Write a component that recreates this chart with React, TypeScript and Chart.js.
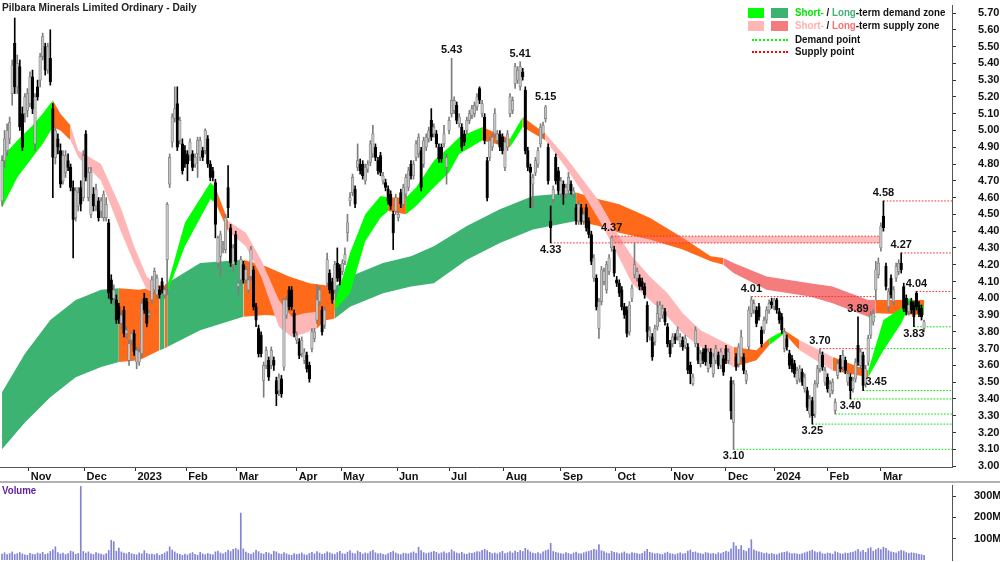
import React, { useEffect, useRef } from "react";
import { Chart, registerables } from "chart.js";

Chart.register(...registerables);

const FONT = "'Liberation Sans Narrow', 'Arial Narrow', 'Liberation Sans', Arial, sans-serif";

const chartTitle = "Pilbara Minerals Limited Ordinary - Daily";
const monthLabels = ["Nov", "Dec", "2023", "Feb", "Mar", "Apr", "May", "Jun", "Jul", "Aug", "Sep", "Oct", "Nov", "Dec", "2024", "Feb", "Mar"];
const monthTickIdx = [10.5, 32.5, 52.5, 72.5, 92.5, 116, 133.5, 155.5, 176, 197.5, 220, 241.5, 263.5, 285, 304, 325, 346];
const priceTicks = [3.0, 3.1, 3.2, 3.3, 3.4, 3.5, 3.6, 3.7, 3.8, 3.9, 4.0, 4.1, 4.2, 4.3, 4.4, 4.5, 4.6, 4.7, 4.8, 4.9, 5.0, 5.1, 5.2, 5.3, 5.4, 5.5, 5.6, 5.7];
const volumeTicks = [100, 200, 300];

const opens = [
  4.58,4.82,4.88,4.95,5.22,5.52,5.26,5.38,5.10,5.10,
  5.12,5.16,5.32,4.92,5.26,5.30,5.44,5.50,5.36,5.43,
  5.13,4.84,4.95,4.88,4.70,4.75,4.82,4.78,4.66,4.48,
  4.55,4.66,4.60,4.98,4.60,4.50,4.62,4.55,4.58,4.52,
  4.48,4.48,4.45,4.11,4.00,3.99,3.95,3.85,3.93,3.79,
  3.63,3.75,3.79,3.62,3.62,3.67,4.00,3.98,3.90,3.99,
  4.05,4.02,4.05,4.10,4.02,4.23,4.68,4.93,5.07,5.16,
  4.94,4.92,4.88,4.86,4.85,4.86,4.80,4.86,4.84,4.88,
  4.88,4.95,4.80,4.76,4.69,4.21,4.25,4.30,4.29,4.66,
  4.42,4.20,4.38,4.07,4.11,4.20,4.11,4.05,4.13,4.17,
  3.95,3.82,3.78,3.51,3.60,3.63,3.60,3.63,3.51,3.45,
  3.52,3.59,3.90,4.05,4.05,3.91,3.75,3.74,3.67,3.63,
  3.66,3.60,3.70,3.76,3.87,3.98,3.93,3.84,4.09,4.15,
  4.10,4.05,4.21,4.18,4.16,4.22,4.39,4.58,4.63,4.65,
  4.78,4.80,4.80,4.70,4.77,4.81,4.86,4.90,4.82,4.85,
  4.70,4.69,4.65,4.62,4.50,4.52,4.48,4.63,4.56,4.62,
  4.66,4.80,4.73,4.84,4.86,4.88,4.80,4.90,4.95,5.06,
  4.98,4.98,4.90,4.90,4.92,4.78,5.00,5.10,5.12,5.15,
  5.04,5.02,4.98,5.00,5.06,5.09,5.10,5.14,5.25,5.10,
  5.08,4.82,4.84,4.90,4.98,4.94,4.98,4.96,4.78,4.90,
  5.10,5.12,5.28,5.30,5.26,5.35,5.24,4.88,4.78,4.68,
  4.75,4.80,4.92,4.98,5.07,4.90,4.46,4.59,4.84,4.76,
  4.62,4.68,4.62,4.64,4.68,4.62,4.54,4.46,4.54,4.46,
  4.54,4.46,4.38,4.12,4.12,3.82,3.98,4.10,4.05,4.16,
  4.30,4.29,4.11,4.09,4.05,3.95,3.93,3.80,4.00,4.14,
  4.12,4.12,4.10,4.07,3.96,3.77,3.77,3.74,3.83,3.88,
  3.90,3.92,3.83,3.73,3.73,3.77,3.77,3.73,3.75,3.72,
  3.71,3.60,3.49,3.73,3.71,3.61,3.68,3.70,3.58,3.68,
  3.55,3.63,3.66,3.60,3.64,3.70,3.63,3.51,3.26,3.65,
  3.61,3.65,3.65,3.51,3.71,3.91,3.93,3.93,3.95,3.81,
  3.81,3.87,3.93,3.98,3.95,3.99,3.92,3.89,3.70,3.76,
  3.67,3.64,3.61,3.51,3.52,3.56,3.46,3.45,3.31,3.39,
  3.31,3.49,3.58,3.66,3.50,3.53,3.43,3.45,3.33,3.54,
  3.64,3.59,3.63,3.50,3.53,3.46,3.52,3.72,3.60,3.66,
  3.49,3.62,3.78,3.86,4.05,4.14,4.30,4.49,4.19,3.95,
  4.12,3.98,4.12,4.16,4.21,4.07,4.00,3.92,3.98,3.96,
  4.03,3.96,3.94,3.82
];

const highs = [
  4.85,5.00,5.04,5.08,5.42,5.67,5.45,5.42,5.14,5.22,
  5.25,5.35,5.36,5.22,5.30,5.46,5.58,5.52,5.52,5.60,
  5.16,5.02,4.98,4.92,4.88,4.88,4.86,4.80,4.70,4.66,
  4.66,4.70,4.88,5.00,4.78,4.78,4.66,4.68,4.60,4.60,
  4.64,4.60,4.47,4.14,4.08,4.02,3.97,3.92,3.95,3.83,
  3.75,3.80,3.81,3.71,3.70,3.99,4.03,4.00,3.93,4.13,
  4.18,4.14,4.07,4.12,4.07,4.57,4.86,5.10,5.26,5.26,
  5.08,4.95,4.91,4.88,4.95,4.88,4.86,4.96,4.96,4.90,
  5.01,4.97,4.82,4.78,4.71,4.37,4.40,4.34,4.50,4.79,
  4.44,4.32,4.40,4.10,4.25,4.22,4.19,4.13,4.31,4.19,
  3.97,3.84,3.80,3.62,3.71,3.65,3.71,3.65,3.53,3.55,
  3.54,4.00,4.01,4.07,4.07,3.93,3.80,3.76,3.77,3.70,
  3.68,3.62,3.82,3.82,4.08,4.07,3.95,3.95,4.27,4.17,
  4.12,4.22,4.30,4.20,4.23,4.30,4.50,4.63,4.74,4.67,
  4.92,4.83,4.82,4.80,4.82,4.94,5.03,4.92,4.84,4.87,
  4.75,4.71,4.67,4.64,4.52,4.62,4.52,4.65,4.68,4.74,
  4.78,4.82,4.82,4.94,4.98,4.90,4.96,4.98,5.02,5.13,
  5.04,5.00,4.92,4.92,5.03,4.86,5.08,5.43,5.20,5.17,
  5.10,5.04,5.00,5.08,5.12,5.15,5.17,5.22,5.26,5.18,
  5.10,4.84,4.96,4.98,5.13,5.00,5.00,4.98,4.95,5.00,
  5.22,5.20,5.40,5.38,5.41,5.37,5.26,4.90,4.80,4.74,
  4.84,4.90,5.04,5.05,5.15,4.92,4.55,4.67,4.86,4.78,
  4.72,4.70,4.68,4.75,4.70,4.66,4.56,4.58,4.56,4.52,
  4.56,4.48,4.40,4.26,4.14,4.00,4.19,4.18,4.22,4.26,
  4.37,4.31,4.13,4.11,4.07,3.97,3.95,3.98,4.08,4.33,
  4.18,4.14,4.12,4.09,3.98,3.83,3.79,3.84,3.98,3.98,
  3.96,3.94,3.85,3.75,3.79,3.79,3.83,3.79,3.77,3.78,
  3.73,3.62,3.55,3.83,3.73,3.69,3.70,3.72,3.70,3.70,
  3.67,3.72,3.68,3.70,3.66,3.72,3.70,3.53,3.51,3.67,
  3.73,3.81,3.67,3.57,3.95,4.01,3.99,3.95,3.97,3.83,
  3.89,3.95,3.99,4.00,4.00,4.00,3.94,3.91,3.82,3.78,
  3.69,3.66,3.63,3.59,3.60,3.58,3.55,3.47,3.42,3.41,
  3.51,3.60,3.70,3.68,3.59,3.55,3.51,3.52,3.40,3.63,
  3.66,3.69,3.65,3.57,3.55,3.53,3.64,3.89,3.70,3.68,
  3.60,3.78,3.92,3.93,4.22,4.24,4.45,4.58,4.21,4.06,
  4.14,4.07,4.21,4.23,4.27,4.09,4.02,3.98,4.00,3.98,
  4.04,3.98,3.96,3.87
];

const lows = [
  4.55,4.78,4.85,4.92,5.15,5.22,5.22,5.00,4.88,5.05,
  5.08,5.14,5.10,4.88,5.18,5.26,5.42,5.33,5.34,5.27,
  4.60,4.80,4.86,4.66,4.68,4.72,4.76,4.64,4.24,4.46,
  4.52,4.52,4.58,4.70,4.58,4.48,4.52,4.52,4.46,4.48,
  4.46,4.46,4.00,3.97,3.96,3.85,3.85,3.82,3.77,3.76,
  3.60,3.72,3.66,3.58,3.60,3.65,3.91,3.83,3.88,3.97,
  4.03,4.00,4.00,4.03,4.00,4.02,4.66,4.90,5.05,4.88,
  4.92,4.74,4.78,4.70,4.82,4.76,4.78,4.72,4.82,4.82,
  4.86,4.78,4.70,4.70,4.36,4.18,4.13,4.27,4.27,4.48,
  4.19,4.16,4.20,4.02,4.08,4.09,4.09,4.03,4.11,3.93,
  3.83,3.65,3.65,3.41,3.58,3.51,3.58,3.57,3.36,3.42,
  3.41,3.57,3.88,3.93,3.93,3.77,3.73,3.64,3.65,3.61,
  3.56,3.50,3.68,3.74,3.85,3.96,3.78,3.82,4.07,4.03,
  3.97,4.03,4.10,4.08,4.14,4.20,4.34,4.55,4.61,4.54,
  4.76,4.74,4.71,4.68,4.75,4.79,4.84,4.82,4.74,4.73,
  4.68,4.64,4.56,4.53,4.29,4.50,4.46,4.54,4.54,4.60,
  4.64,4.71,4.71,4.82,4.84,4.64,4.78,4.88,4.93,4.94,
  4.96,4.90,4.81,4.81,4.90,4.68,4.98,5.08,5.10,5.04,
  5.02,4.88,4.91,4.98,5.04,5.07,5.08,5.12,5.16,5.08,
  4.92,4.58,4.82,4.88,4.96,4.92,4.88,4.86,4.76,4.88,
  5.08,5.10,5.25,5.28,5.24,5.30,4.86,4.76,4.54,4.54,
  4.73,4.78,4.90,4.96,5.05,4.68,4.33,4.57,4.68,4.62,
  4.60,4.56,4.60,4.62,4.62,4.60,4.44,4.44,4.44,4.44,
  4.40,4.36,4.20,4.10,3.93,3.76,3.96,4.08,4.03,4.14,
  4.28,4.13,4.07,4.01,3.93,3.88,3.77,3.78,3.98,4.12,
  4.10,4.05,4.05,4.00,3.74,3.75,3.63,3.72,3.81,3.86,
  3.88,3.84,3.71,3.65,3.71,3.73,3.75,3.71,3.69,3.70,
  3.55,3.49,3.48,3.71,3.61,3.59,3.61,3.60,3.56,3.59,
  3.53,3.61,3.58,3.58,3.54,3.61,3.61,3.28,3.10,3.57,
  3.59,3.63,3.55,3.49,3.69,3.89,3.91,3.83,3.87,3.71,
  3.79,3.85,3.91,3.94,3.93,3.91,3.85,3.79,3.68,3.69,
  3.58,3.56,3.53,3.49,3.50,3.48,3.44,3.33,3.29,3.25,
  3.29,3.47,3.56,3.57,3.48,3.44,3.41,3.43,3.31,3.52,
  3.56,3.57,3.55,3.48,3.40,3.44,3.50,3.60,3.58,3.45,
  3.47,3.60,3.76,3.84,3.99,4.12,4.28,4.40,4.05,3.92,
  4.00,3.96,4.10,4.14,4.15,3.92,3.90,3.90,3.91,3.83,
  3.93,3.89,3.87,3.80
];

const closes = [
  4.82,4.95,5.00,5.05,5.39,5.26,5.40,5.02,4.90,5.20,
  5.22,5.32,5.13,5.20,5.20,5.44,5.56,5.36,5.50,5.29,
  4.84,5.00,4.90,4.68,4.85,4.85,4.78,4.66,4.47,4.64,
  4.63,4.56,4.85,4.72,4.75,4.75,4.55,4.65,4.48,4.58,
  4.62,4.56,4.03,3.99,4.05,3.87,3.88,3.90,3.79,3.81,
  3.73,3.79,3.68,3.69,3.68,3.97,3.93,3.85,3.91,4.11,
  4.16,4.12,4.02,4.05,4.05,4.56,4.84,5.08,5.13,4.90,
  5.06,4.76,4.80,4.80,4.93,4.78,4.84,4.94,4.94,4.84,
  5.00,4.80,4.72,4.72,4.44,4.36,4.38,4.31,4.48,4.54,
  4.21,4.30,4.22,4.09,4.23,4.11,4.17,4.11,4.29,3.95,
  3.87,3.67,3.67,3.60,3.69,3.53,3.69,3.60,3.43,3.53,
  3.43,3.99,3.99,3.95,3.95,3.79,3.78,3.66,3.75,3.68,
  3.58,3.52,3.80,3.80,3.99,4.05,3.80,3.93,4.23,4.05,
  3.99,4.20,4.12,4.10,4.21,4.26,4.45,4.60,4.72,4.56,
  4.82,4.76,4.73,4.78,4.80,4.92,4.98,4.84,4.76,4.75,
  4.73,4.66,4.58,4.55,4.39,4.60,4.50,4.56,4.66,4.72,
  4.76,4.73,4.80,4.92,4.96,4.66,4.94,4.96,5.00,4.96,
  5.02,4.92,4.83,4.83,4.98,4.84,5.06,5.18,5.18,5.06,
  5.08,4.90,4.93,5.06,5.10,5.13,5.15,5.20,5.18,5.16,
  4.94,4.60,4.94,4.96,5.10,4.98,4.90,4.88,4.93,4.98,
  5.20,5.18,5.38,5.36,5.38,5.32,4.88,4.78,4.75,4.72,
  4.82,4.88,5.02,5.03,5.14,4.70,4.42,4.65,4.70,4.64,
  4.70,4.62,4.66,4.72,4.64,4.64,4.46,4.56,4.46,4.50,
  4.42,4.38,4.22,4.24,3.95,3.98,4.17,4.16,4.20,4.24,
  4.36,4.15,4.09,4.03,3.95,3.90,3.79,3.96,4.06,4.20,
  4.16,4.07,4.07,4.02,3.80,3.81,3.65,3.82,3.91,3.96,
  3.94,3.86,3.73,3.67,3.77,3.75,3.81,3.77,3.71,3.76,
  3.57,3.55,3.53,3.81,3.63,3.67,3.63,3.62,3.68,3.61,
  3.65,3.70,3.60,3.68,3.56,3.63,3.68,3.33,3.49,3.59,
  3.71,3.77,3.57,3.55,3.93,3.99,3.97,3.85,3.89,3.73,
  3.87,3.93,3.97,3.96,3.99,3.93,3.87,3.81,3.80,3.71,
  3.60,3.58,3.55,3.57,3.58,3.50,3.53,3.35,3.40,3.30,
  3.49,3.58,3.67,3.59,3.57,3.46,3.49,3.50,3.38,3.61,
  3.58,3.66,3.57,3.55,3.45,3.51,3.62,3.62,3.68,3.48,
  3.58,3.76,3.90,3.91,4.17,4.21,4.43,4.42,4.07,4.04,
  4.02,4.05,4.19,4.21,4.17,3.94,3.92,3.96,3.93,3.89,
  3.95,3.91,3.89,3.86
];

// volume in millions of shares
const volumes = [
  28,34,25,30,38,26,30,35,29,24,
  22,31,27,25,33,29,36,26,30,40,
  48,62,35,28,33,26,30,42,38,27,
  31,345,40,33,38,29,26,35,30,28,
  24,30,45,92,86,41,56,38,33,29,
  36,30,27,24,33,29,44,31,26,28,
  25,30,22,27,33,40,62,47,38,30,
  26,22,28,24,30,35,27,23,36,29,
  25,31,27,24,38,42,33,29,35,46,
  40,50,54,48,220,52,37,31,27,34,
  45,39,30,28,36,33,26,41,38,30,
  27,35,29,24,22,30,26,28,33,25,
  23,31,36,29,40,33,27,30,38,34,
  29,26,35,41,30,28,37,44,32,29,
  42,36,28,33,30,39,45,34,29,31,
  27,24,30,36,41,33,28,25,32,30,
  29,34,38,31,60,44,35,30,33,37,
  41,36,29,34,38,31,35,48,40,33,
  30,36,29,27,33,31,35,40,38,45,
  50,44,36,30,33,29,35,41,30,34,
  39,33,42,36,45,40,55,47,38,33,
  30,35,29,38,44,48,78,40,36,33,
  30,28,35,31,27,33,37,30,29,34,
  38,41,45,50,47,72,44,39,33,30,
  41,36,34,29,33,38,30,28,35,32,
  30,27,31,40,50,36,33,29,31,28,
  26,32,37,30,28,25,30,34,29,31,
  42,47,36,38,33,30,28,35,32,29,
  31,27,34,30,36,41,38,52,82,65,
  50,68,45,40,55,95,48,42,38,35,
  30,33,28,31,27,25,30,34,36,40,
  33,29,31,28,26,30,34,38,42,47,
  40,35,38,30,28,33,31,27,39,35,
  30,28,33,31,35,37,42,50,39,45,
  36,53,58,41,48,55,49,60,55,44,
  38,36,33,40,45,42,35,31,34,33,
  30,27,25,22
];

// Short-term zone (D = demand, S = supply, N = transition)
const shortIdx = [0,6,12,16,20,23,27,30,39,47,52,57,61,65,72,82,84,89,96,102,109,114,119,124,131,137,143,149,152,159,163,170,176,180,189,200,205,214,222,229,235,242,248,255,262,268,275,288,297,302,308,314,327,341,347,354,357,363];
const shortLo = [4.54,4.72,4.84,4.92,5.02,5.00,4.94,4.84,4.70,4.39,4.21,4.05,4.03,4.03,4.31,4.59,4.57,4.40,4.31,4.13,3.83,3.77,3.79,3.82,3.93,4.03,4.34,4.48,4.52,4.50,4.55,4.66,4.75,4.86,4.94,4.90,5.02,4.94,4.78,4.62,4.47,4.27,4.09,3.99,3.89,3.79,3.71,3.59,3.63,3.72,3.79,3.69,3.57,3.53,3.69,3.85,3.95,3.91];
const shortHi = [4.84,4.94,5.03,5.10,5.18,5.10,5.03,4.88,4.80,4.53,4.31,4.13,4.08,4.07,4.45,4.69,4.66,4.46,4.39,4.23,3.99,3.89,3.91,3.92,3.97,4.27,4.50,4.61,4.60,4.60,4.66,4.82,4.90,4.96,5.02,4.95,5.08,4.98,4.84,4.70,4.58,4.39,4.25,4.13,4.03,3.91,3.81,3.71,3.69,3.76,3.81,3.75,3.65,3.57,3.87,3.94,4.00,3.95];
const shortState = ["D","D","D","D","N","N","S","S","S","S","S","S","N","D","D","D","N","S","S","S","S","S","S","N","D","D","D","D","N","D","D","D","D","D","N","D","N","S","S","S","S","S","S","S","S","S","S","N","N","D","N","S","N","D","D","D","D","D"];

// Long-term zone
const longIdx = [0,9,19,29,39,46,54,62,64,65,78,95,104,113,121,131,137,150,161,170,183,196,209,226,235,243,255,268,279,284,288,301,318,327,341,344,363];
const longLo = [3.10,3.26,3.41,3.53,3.59,3.62,3.63,3.69,3.70,3.71,3.81,3.89,3.90,3.89,3.85,3.88,3.95,4.03,4.07,4.09,4.23,4.33,4.41,4.46,4.43,4.39,4.35,4.29,4.22,4.20,4.15,4.05,4.01,3.97,3.89,3.91,3.90];
const longHi = [3.44,3.67,3.87,3.99,4.05,4.06,4.05,4.07,4.08,4.09,4.21,4.23,4.19,4.13,4.09,4.07,4.13,4.21,4.25,4.31,4.43,4.53,4.61,4.63,4.59,4.56,4.48,4.36,4.25,4.24,4.21,4.13,4.09,4.07,3.99,3.99,3.99];
const longState = ["D","D","D","D","D","N","N","D","N","D","D","N","N","N","N","D","D","D","D","D","D","D","D","N","N","N","N","N","N","S","S","S","S","S","S","N","N"];

// Demand / supply points (horizontal dotted levels)
const demandLevels = [3.10, 3.25, 3.31, 3.40, 3.45, 3.70, 3.83, 3.89];
const demandFrom = [288, 319, 328, 334, 339, 341, 359, 341];
const demandTo = [374, 374, 374, 374, 374, 374, 374, 344];
const supplyLevels = [4.01, 4.33, 4.37, 4.58, 4.27, 4.04, 3.70];
const supplyFrom = [295, 216, 240, 347, 354, 360, 322];
const supplyTo = [344, 346, 346, 374, 374, 374, 341];

// Labelled turning points
const annIdx = [177, 204, 214, 216, 240, 288, 295, 319, 322, 334, 337, 339, 347, 354, 360, 359];
const annValue = [5.43, 5.41, 5.15, 4.33, 4.37, 3.10, 4.01, 3.25, 3.70, 3.40, 3.89, 3.45, 4.58, 4.27, 4.04, 3.83];
const annSide = ["above", "above", "above", "below", "above", "below", "above", "below", "above", "below", "above", "right", "above", "above", "above", "below"];

const X_MIN = -0.8;
const X_MAX = 374;

const C = {
  upFill: "#c4c4c4",
  upEdge: "#7d7d7d",
  down: "#000000",
  shortDemand: "#00ff00",
  longDemand: "#3cb371",
  shortSupply: "#ffb6b6",
  longSupply: "#f47c7c",
  neutral: "#ff6a1a",
  demandLine: "#00e000",
  supplyLine: "#ff2a2a",
  zone: "rgba(255,110,110,0.45)",
  vol: "#8383d4",
};

function bandDatasets(idx, lo, hi, st, demandColor, supplyColor, order) {
  const colorAt = (k) => (st[k] === "D" ? demandColor : st[k] === "S" ? supplyColor : C.neutral);
  return [
    {
      type: "line",
      data: idx.map((x, k) => ({ x, y: lo[k] })),
      borderColor: "rgba(0,0,0,0)",
      borderWidth: 0,
      pointRadius: 0,
      fill: false,
      order,
    },
    {
      type: "line",
      data: idx.map((x, k) => ({ x, y: hi[k] })),
      borderColor: "rgba(0,0,0,0)",
      borderWidth: 0,
      pointRadius: 0,
      fill: "-1",
      backgroundColor: colorAt(0),
      segment: { backgroundColor: (ctx) => colorAt(ctx.p0DataIndex) },
      order,
    },
  ];
}

function levelDataset(level, from, to, color) {
  return {
    type: "line",
    data: [
      { x: from, y: level },
      { x: to, y: level },
    ],
    borderColor: color,
    borderWidth: 1,
    borderDash: [1.6, 1.6],
    pointRadius: 0,
    fill: false,
    order: 4,
  };
}

const labelPlugin = {
  id: "turningPointLabels",
  afterDatasetsDraw(chart) {
    const { ctx } = chart;
    const x = chart.scales.x;
    const y = chart.scales.y;
    ctx.save();
    ctx.font = `bold 11px ${FONT}`;
    ctx.fillStyle = "#111";
    ctx.textAlign = "center";
    ctx.textBaseline = "middle";
    annIdx.forEach((idx, k) => {
      const px = x.getPixelForValue(idx);
      const py = y.getPixelForValue(annValue[k]);
      const txt = annValue[k].toFixed(2);
      const side = annSide[k];
      if (side === "above") ctx.fillText(txt, px, py - 8);
      else if (side === "below") ctx.fillText(txt, px, py + 7);
      else ctx.fillText(txt, px + 13, py - 9);
    });
    ctx.restore();
  },
};

const rightAxisFit = (s) => {
  s.width = 48;
  s.paddingTop = 0;
  s.paddingBottom = 0;
};

export default function App() {
  const priceRef = useRef(null);
  const volRef = useRef(null);

  useEffect(() => {
    const idxs = opens.map((_, i) => i);
    const isUp = (i) => closes[i] >= opens[i];

    const zoneLoK = 1;
    const zoneHiK = 2;
    const zoneFrom = Math.max(supplyFrom[zoneLoK], supplyFrom[zoneHiK]);
    const zoneTo = Math.min(supplyTo[zoneLoK], supplyTo[zoneHiK]);

    const datasets = [
      ...bandDatasets(longIdx, longLo, longHi, longState, C.longDemand, C.longSupply, 11),
      ...bandDatasets(shortIdx, shortLo, shortHi, shortState, C.shortDemand, C.shortSupply, 10),
      {
        type: "line",
        data: [
          { x: zoneFrom, y: supplyLevels[zoneLoK] },
          { x: zoneTo, y: supplyLevels[zoneLoK] },
        ],
        borderColor: "rgba(0,0,0,0)",
        borderWidth: 0,
        pointRadius: 0,
        fill: false,
        order: 6,
      },
      {
        type: "line",
        data: [
          { x: zoneFrom, y: supplyLevels[zoneHiK] },
          { x: zoneTo, y: supplyLevels[zoneHiK] },
        ],
        borderColor: "rgba(0,0,0,0)",
        borderWidth: 0,
        pointRadius: 0,
        fill: "-1",
        backgroundColor: C.zone,
        order: 6,
      },
      ...demandLevels.map((lv, k) => levelDataset(lv, demandFrom[k], demandTo[k], C.demandLine)),
      ...supplyLevels.map((lv, k) => levelDataset(lv, supplyFrom[k], supplyTo[k], C.supplyLine)),
      {
        type: "bar",
        data: idxs.map((i) => ({ x: i, y: [lows[i], highs[i]] })),
        backgroundColor: (ctx) => (isUp(ctx.dataIndex) ? C.upEdge : C.down),
        barThickness: 1,
        grouped: false,
        order: 2,
      },
      {
        type: "bar",
        data: idxs.map((i) => ({ x: i, y: [opens[i], closes[i]] })),
        backgroundColor: (ctx) => (isUp(ctx.dataIndex) ? C.upFill : C.down),
        borderColor: (ctx) => (isUp(ctx.dataIndex) ? C.upEdge : C.down),
        borderWidth: 0.7,
        borderSkipped: false,
        barThickness: 2.6,
        minBarLength: 1,
        grouped: false,
        order: 1,
      },
    ];

    const priceChart = new Chart(priceRef.current, {
      type: "bar",
      data: { datasets },
      options: {
        responsive: false,
        animation: false,
        devicePixelRatio: 1,
        events: [],
        layout: { padding: { top: 5, left: 0, right: 0, bottom: 0 } },
        plugins: { legend: { display: false }, tooltip: { enabled: false }, title: { display: false } },
        scales: {
          x: {
            type: "linear",
            min: X_MIN,
            max: X_MAX,
            offset: false,
            afterBuildTicks: (s) => {
              s.ticks = monthTickIdx.map((v) => ({ value: v }));
            },
            afterFit: (s) => {
              s.height = 14;
              s.paddingLeft = 0;
            },
            grid: { display: true, drawOnChartArea: false, drawTicks: true, tickLength: 4, color: "#333", offset: false },
            border: { display: true, color: "#555", width: 1 },
            ticks: {
              autoSkip: false,
              maxRotation: 0,
              align: "start",
              labelOffset: 2,
              padding: -1,
              color: "#111",
              font: { family: FONT, size: 11, weight: "bold" },
              callback: (v, i) => monthLabels[i],
            },
          },
          y: {
            position: "right",
            min: 2.9944,
            max: 5.7477,
            afterBuildTicks: (s) => {
              s.ticks = priceTicks.map((v) => ({ value: v }));
            },
            afterFit: rightAxisFit,
            grid: { display: true, drawOnChartArea: false, drawTicks: true, tickLength: 4, color: "#333" },
            border: { display: true, color: "#555", width: 1 },
            ticks: {
              autoSkip: false,
              padding: 22,
              color: "#111",
              font: { family: FONT, size: 11, weight: "bold" },
              callback: (v) => Number(v).toFixed(2),
            },
          },
        },
      },
      plugins: [labelPlugin],
    });

    const volChart = new Chart(volRef.current, {
      type: "bar",
      data: {
        datasets: [
          {
            data: idxs.map((i) => ({ x: i, y: volumes[i] })),
            backgroundColor: C.vol,
            barThickness: 1,
            grouped: false,
          },
        ],
      },
      options: {
        responsive: false,
        animation: false,
        devicePixelRatio: 1,
        events: [],
        layout: { padding: { top: 1, left: 0, right: 0, bottom: 2 } },
        plugins: { legend: { display: false }, tooltip: { enabled: false } },
        scales: {
          x: { type: "linear", min: X_MIN, max: X_MAX, offset: false, display: false },
          y: {
            position: "right",
            min: 0,
            max: 351.6,
            afterBuildTicks: (s) => {
              s.ticks = volumeTicks.map((v) => ({ value: v }));
            },
            afterFit: rightAxisFit,
            grid: { display: true, drawOnChartArea: false, drawTicks: true, tickLength: 4, color: "#333" },
            border: { display: true, color: "#555", width: 1 },
            ticks: {
              autoSkip: false,
              padding: 18,
              color: "#111",
              font: { family: FONT, size: 11, weight: "bold" },
              callback: (v) => `${v}M`,
            },
          },
        },
      },
    });

    return () => {
      priceChart.destroy();
      volChart.destroy();
    };
  }, []);

  const txt = {
    position: "absolute",
    fontFamily: FONT,
    fontWeight: 700,
    whiteSpace: "nowrap",
    transformOrigin: "0 50%",
  } as React.CSSProperties;

  return (
    <div style={{ position: "fixed", left: 0, top: 0, width: 1000, height: 562, background: "#fff", overflow: "hidden" }}>
      <canvas ref={priceRef} width={1000} height={481} style={{ position: "absolute", left: 0, top: 0 }} />
      <div style={{ position: "absolute", left: 0, top: 481, width: 1000, height: 2, background: "#b3b3b3" }} />
      <canvas ref={volRef} width={1000} height={78} style={{ position: "absolute", left: 0, top: 484 }} />

      <div style={{ ...txt, left: 2, top: 0, fontSize: 11, lineHeight: "14px", color: "#222", transform: "scaleX(0.92)" }}>{chartTitle}</div>

      <div style={{ position: "absolute", left: 748, top: 8, width: 16, height: 10, background: C.shortDemand }} />
      <div style={{ position: "absolute", left: 771, top: 8, width: 17, height: 10, background: C.longDemand }} />
      <div style={{ ...txt, left: 795, top: 6, fontSize: 11.5, lineHeight: "13px", color: "#111", transform: "scaleX(0.85)" }}>
        <span style={{ color: "#00e600" }}>Short-</span> / <span style={{ color: C.longDemand }}>Long</span>-term demand zone
      </div>
      <div style={{ position: "absolute", left: 748, top: 21, width: 16, height: 10, background: C.shortSupply }} />
      <div style={{ position: "absolute", left: 771, top: 21, width: 17, height: 10, background: C.longSupply }} />
      <div style={{ ...txt, left: 795, top: 19, fontSize: 11.5, lineHeight: "13px", color: "#111", transform: "scaleX(0.85)" }}>
        <span style={{ color: "#ffb0b0" }}>Short-</span> / <span style={{ color: "#ff7070" }}>Long</span>-term supply zone
      </div>
      <div style={{ position: "absolute", left: 752, top: 39, width: 36, height: 0, borderTop: "2px dotted #00ff00" }} />
      <div style={{ ...txt, left: 795, top: 33, fontSize: 11.5, lineHeight: "13px", color: "#111", transform: "scaleX(0.85)" }}>Demand point</div>
      <div style={{ position: "absolute", left: 752, top: 51, width: 36, height: 0, borderTop: "2px dotted #ff0000" }} />
      <div style={{ ...txt, left: 795, top: 45, fontSize: 11.5, lineHeight: "13px", color: "#111", transform: "scaleX(0.85)" }}>Supply point</div>

      <div style={{ ...txt, left: 2, top: 483, fontSize: 11, lineHeight: "14px", color: "#5b1f9e", transform: "scaleX(0.88)" }}>Volume</div>
    </div>
  );
}
